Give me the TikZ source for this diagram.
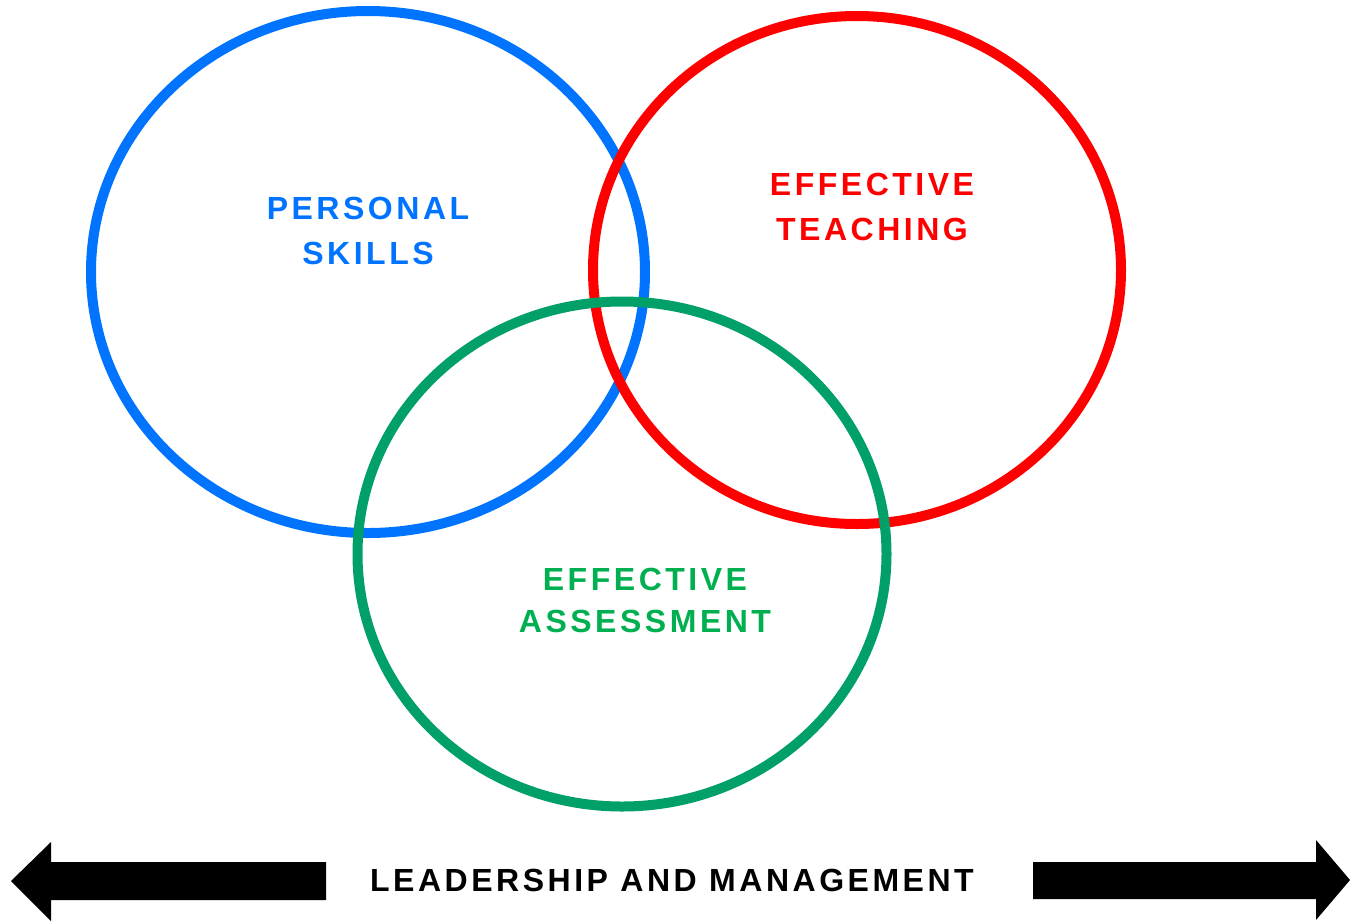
\documentclass[tikz,border=0pt]{standalone}
\usepackage{fontspec}
\setmainfont{Liberation Sans}
\newfontfamily\spacedfont[LetterSpace=11]{Liberation Sans}
\usepackage{xcolor}
\usetikzlibrary{shapes.geometric}
\definecolor{skillblue}{RGB}{0,115,255}
\definecolor{teachred}{RGB}{255,0,0}
\definecolor{assessline}{RGB}{0,160,104}
\definecolor{assesstext}{RGB}{0,176,80}
\tikzset{
    ring/.style={ellipse, draw, line width=10pt, inner sep=0pt}, % the three circles
    ringlabel/.style={align=center, font=\spacedfont\bfseries\fontsize{32}{45}\selectfont}, % text inside a circle
    bigarrow/.style={fill=black, draw=none}, % the thick arrows at the bottom
}
\begin{document}
\begin{tikzpicture}[x=1pt, y=-1pt]
    \useasboundingbox (0,0) rectangle (1350,922);
    % Kreise
    \node[ring, draw=skillblue, minimum width=554pt, minimum height=522pt] (skills) at (368,272) {};
    \node[ring, draw=teachred, minimum width=528pt, minimum height=508pt] (teaching) at (857,270) {};
    \node[ring, draw=assessline, minimum width=529pt, minimum height=505pt] (assessment) at (622,554) {};

    % Beschriftungen
    \node[ringlabel, text=skillblue] (skillstext) at (368,231) {PERSONAL\\SKILLS};
    \node[ringlabel, text=teachred] (teachingtext) at (872,207) {EFFECTIVE\\TEACHING};
    \node[ringlabel, text=assesstext, font=\spacedfont\bfseries\fontsize{32}{42}\selectfont] (assesstext) at (645,600) {EFFECTIVE\\ASSESSMENT};

    % Pfeile
    \fill[bigarrow] (11,881) -- (51,842) -- (51,862) -- (326,862) -- (326,900) -- (51,900) -- (51,921) -- cycle;
    \fill[bigarrow] (1350,880) -- (1316,840) -- (1316,862) -- (1033,862) -- (1033,899) -- (1316,899) -- (1316,920) -- cycle;
    \node[ringlabel] (leadership) at (672,880) {LEADERSHIP AND MANAGEMENT};
\end{tikzpicture}
\end{document}
